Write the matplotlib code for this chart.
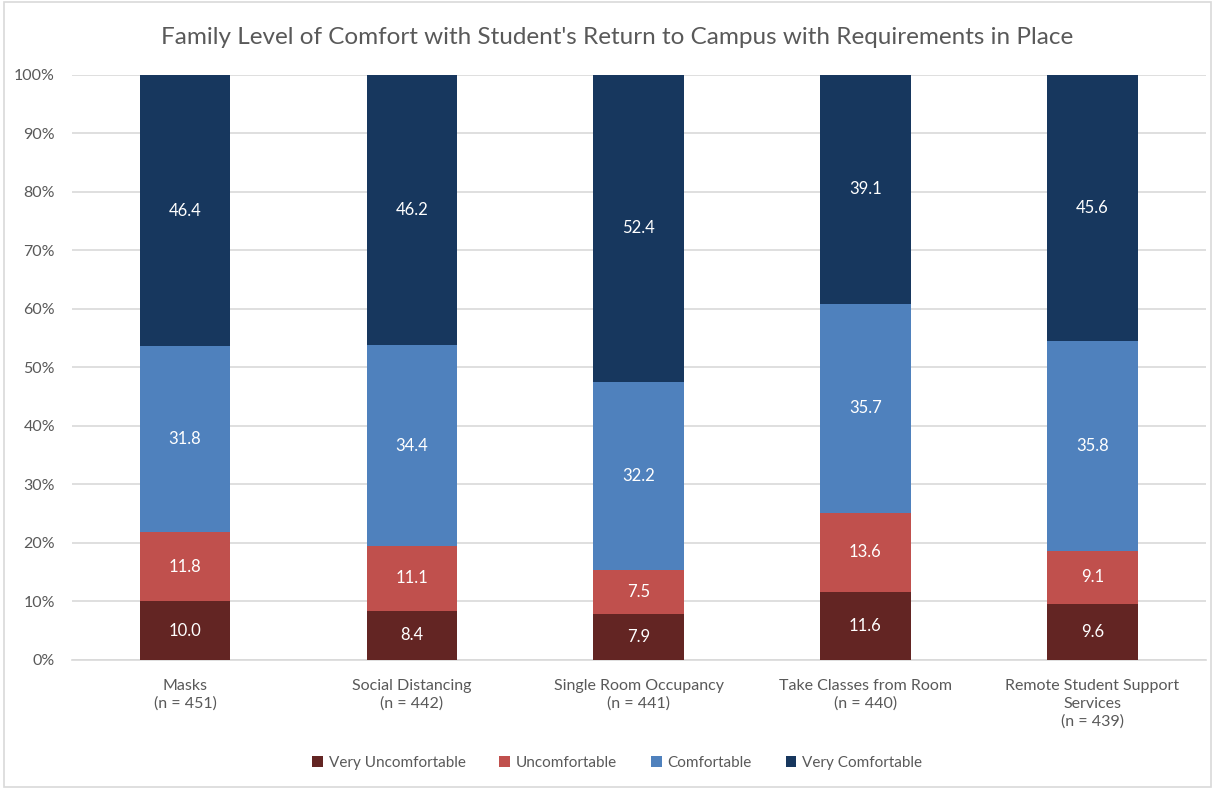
import numpy as np
import matplotlib
matplotlib.use("Agg")
import matplotlib.pyplot as plt

plt.rcParams['font.family'] = ['Lato', 'DejaVu Sans']

# data
categories = ["Masks\n(n = 451)", "Social Distancing\n(n = 442)",
              "Single Room Occupancy\n(n = 441)", "Take Classes from Room\n(n = 440)",
              "Remote Student Support\nServices\n(n = 439)"]
series = ["Very Uncomfortable", "Uncomfortable", "Comfortable", "Very Comfortable"]
very_uncomf = [10.0, 8.4, 7.9, 11.6, 9.6]
uncomf = [11.8, 11.1, 7.5, 13.6, 9.1]
comf = [31.8, 34.4, 32.2, 35.7, 35.8]
very_comf = [46.4, 46.2, 52.4, 39.1, 45.6]
colors = ["#632523", "#C0504D", "#4F81BD", "#17375E"]

vals = np.array([very_uncomf, uncomf, comf, very_comf])
pct = vals / vals.sum(axis=0) * 100  # 100% stacked

fig = plt.figure(figsize=(12.15, 7.89), dpi=100)
ax = fig.add_axes([0.059, 0.1635, 0.9333, 0.7415])

x = np.arange(len(categories))
bottom = np.zeros(len(categories))
for i in range(4):
    ax.bar(x, pct[i], 0.4, bottom=bottom, color=colors[i], label=series[i], zorder=3)
    for j in range(len(categories)):
        ax.text(x[j], bottom[j] + pct[i][j] / 2, f"{vals[i][j]:.1f}", ha="center", va="center",
                color="white", fontsize=12, zorder=4)
    bottom += pct[i]

ax.set_xlim(-0.5, 4.5)
ax.set_ylim(0, 100)
ax.set_yticks(np.arange(0, 101, 10))
ax.set_yticklabels([f"{t}%" for t in range(0, 101, 10)])
ax.yaxis.grid(True, color="#D9D9D9", linewidth=1.2, zorder=0)
ax.set_xticks(x)
ax.set_xticklabels(categories, linespacing=1.3)
ax.tick_params(axis="both", length=0, colors="#595959", labelsize=11.5)
ax.tick_params(axis="x", pad=14)
ax.tick_params(axis="y", pad=12)
for s in ["top", "right", "left"]:
    ax.spines[s].set_visible(False)
ax.spines["bottom"].set_color("#D9D9D9")
ax.spines["bottom"].set_linewidth(1.2)

fig.text(0.508, 0.953, "Family Level of Comfort with Student's Return to Campus with Requirements in Place",
         ha="center", va="center", fontsize=17.5, color="#595959")

fig.legend(loc="center", bbox_to_anchor=(0.508, 0.033), ncol=4, frameon=False,
           fontsize=11, handlelength=0.7, handleheight=0.7, columnspacing=2.2,
           handletextpad=0.4, labelcolor="#595959")

# chart border
fig.patches.append(plt.Rectangle((0.003, 0.003), 0.994, 0.994, transform=fig.transFigure,
                                 fill=False, edgecolor="#D9D9D9", linewidth=1.2))

fig.savefig("out.png", dpi=100)
